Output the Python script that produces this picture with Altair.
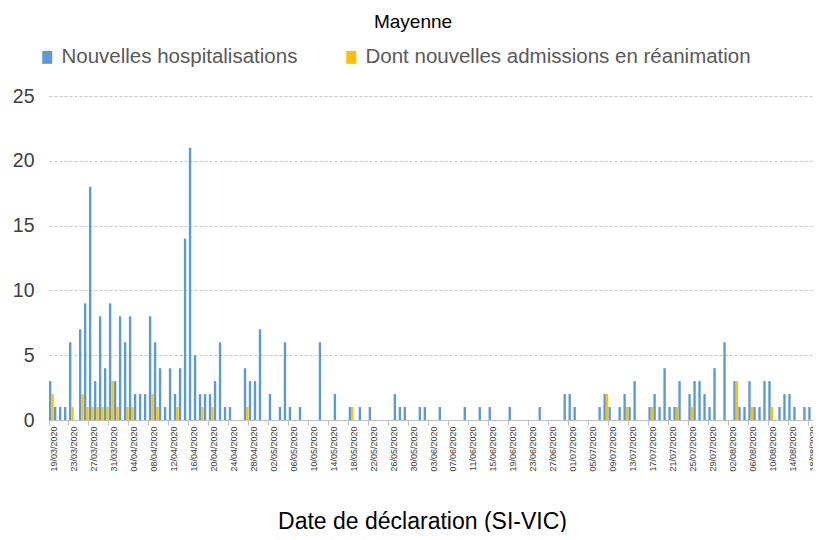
import altair as alt
import pandas as pd

dates = pd.date_range("2020-03-19", periods=153, freq="D").strftime("%d/%m/%Y").tolist()

hosp = [
    3, 1, 1, 1, 6, 0, 7, 9, 18, 3,
    8, 4, 9, 3, 8, 6, 8, 2, 2, 2,
    8, 6, 4, 1, 4, 2, 4, 14, 21, 5,
    2, 2, 2, 3, 6, 1, 1, 0, 0, 4,
    3, 3, 7, 0, 2, 0, 1, 6, 1, 0,
    1, 0, 0, 0, 6, 0, 0, 2, 0, 0,
    1, 0, 1, 0, 1, 0, 0, 0, 0, 2,
    1, 1, 0, 0, 1, 1, 0, 0, 1, 0,
    0, 0, 0, 1, 0, 0, 1, 0, 1, 0,
    0, 0, 1, 0, 0, 0, 0, 0, 1, 0,
    0, 0, 0, 2, 2, 1, 0, 0, 0, 0,
    1, 2, 1, 0, 1, 2, 1, 3, 0, 0,
    1, 2, 1, 4, 1, 1, 3, 0, 2, 3,
    3, 2, 1, 4, 0, 6, 0, 3, 1, 1,
    3, 1, 1, 3, 3, 0, 1, 2, 2, 1,
    0, 1, 1,
]

rea = [
    2, 0, 0, 0, 1, 0, 2, 1, 1, 1,
    1, 1, 3, 1, 0, 1, 1, 0, 0, 0,
    2, 1, 0, 0, 0, 1, 0, 0, 0, 0,
    1, 0, 1, 0, 0, 0, 0, 0, 0, 1,
    0, 0, 0, 0, 0, 0, 0, 0, 0, 0,
    0, 0, 0, 0, 0, 0, 0, 0, 0, 0,
    1, 0, 0, 0, 0, 0, 0, 0, 0, 0,
    0, 0, 0, 0, 0, 0, 0, 0, 0, 0,
    0, 0, 0, 0, 0, 0, 0, 0, 0, 0,
    0, 0, 0, 0, 0, 0, 0, 0, 0, 0,
    0, 0, 0, 0, 0, 0, 0, 0, 0, 0,
    0, 2, 0, 0, 0, 1, 0, 0, 0, 0,
    1, 0, 0, 0, 0, 1, 0, 0, 1, 0,
    0, 0, 0, 0, 0, 0, 0, 3, 0, 0,
    1, 0, 0, 0, 1, 0, 0, 0, 0, 0,
    0, 0, 0,
]

series_names = ["Nouvelles hospitalisations", "Dont nouvelles admissions en réanimation"]
colors = ["#5B9BD5", "#FFC000"]
y_ticks = [0, 5, 10, 15, 20, 25]
x_label_values = dates[::4]

df = pd.DataFrame({
    "date": dates + dates,
    "serie": [series_names[0]] * len(dates) + [series_names[1]] * len(dates),
    "value": hosp + rea,
})

FONT = "Liberation Sans"

chart = alt.Chart(df).mark_bar(strokeWidth=0).encode(
    x=alt.X(
        "date:N",
        sort=dates,
        scale=alt.Scale(paddingInner=0.05, paddingOuter=0),
        axis=alt.Axis(
            values=x_label_values,
            labelAngle=270,
            labelFontSize=9,
            labelFont=FONT,
            labelColor="#404040",
            labelPadding=1,
            labelOffset=2.5,
            labelOverlap=False,
            bandPosition=0,
            tickSize=5,
            tickColor="#BFBFBF",
            domainColor="#BFBFBF",
            grid=False,
            title="Date de déclaration (SI-VIC)",
            titleFont=FONT,
            titleFontSize=23,
            titleFontWeight="normal",
            titleColor="#000000",
            titleX=373,
            titleY=108,
            titleBaseline="alphabetic",
        ),
    ),
    xOffset=alt.XOffset("serie:N", sort=series_names),
    y=alt.Y(
        "value:Q",
        scale=alt.Scale(domain=[0, 25]),
        axis=alt.Axis(
            values=y_ticks,
            ticks=False,
            domain=False,
            gridColor="#C8C8C8",
            gridDash=[3, 2],
            labelFont=FONT,
            labelFontSize=19.5,
            labelColor="#404040",
            labelPadding=15,
            title=None,
        ),
    ),
    color=alt.Color(
        "serie:N",
        sort=series_names,
        scale=alt.Scale(domain=series_names, range=colors),
        legend=alt.Legend(
            orient="none",
            legendX=-12,
            legendY=-49,
            direction="horizontal",
            title=None,
            symbolType="M-1,-1.3H1V1.3H-1Z",
            symbolSize=100,
            symbolStrokeWidth=0,
            symbolOpacity=1,
            labelFont=FONT,
            labelFontSize=20.5,
            labelColor="#595959",
            labelLimit=800,
            labelOffset=4,
            columnPadding=43,
        ),
    ),
).properties(
    width=764,
    height=324,
    title=alt.TitleParams(
        text="Mayenne",
        font=FONT,
        fontSize=19,
        fontWeight="normal",
        color="#000000",
        anchor="middle",
        dx=-18,
        offset=15,
    ),
    autosize=alt.AutoSizeParams(type="none"),
    padding={"left": 41, "top": 88, "right": 0, "bottom": 112},
).configure_view(stroke=None)

chart.save("out.html", embed_options={"renderer": "svg", "actions": False})
